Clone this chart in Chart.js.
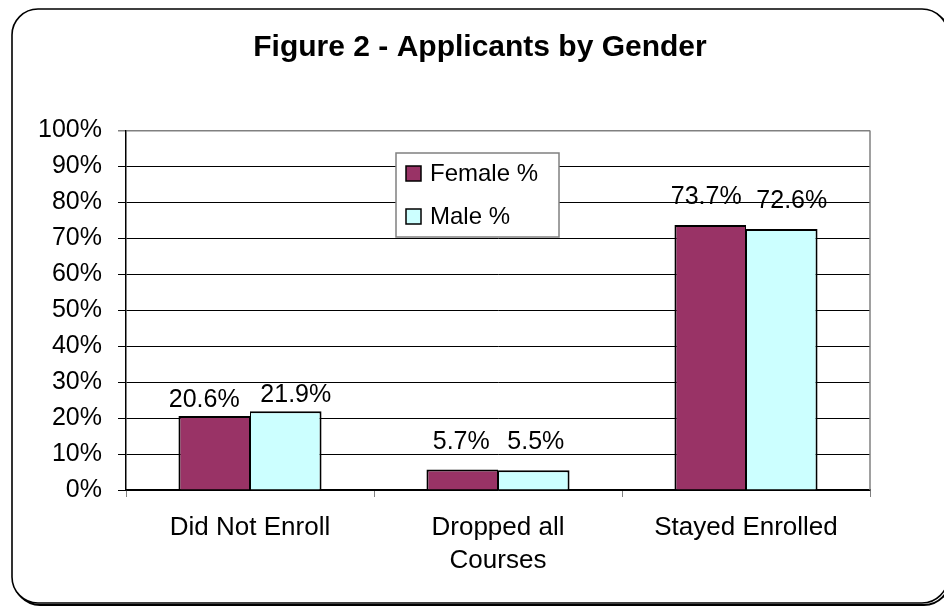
<!DOCTYPE html>
<html>
<head>
<meta charset="utf-8">
<script src="https://cdn.jsdelivr.net/npm/chart.js@4.4.0/dist/chart.umd.min.js"></script>
<style>
  html, body { margin: 0; padding: 0; background: #fff; }
  #wrap { width: 944px; height: 608px; position: relative; }
</style>
</head>
<body>
<div id="wrap"><canvas id="c" width="944" height="608"></canvas></div>
<script>
const titleText = 'Figure 2 - Applicants by Gender';
const categories = ['Did Not Enroll', ['Dropped all', 'Courses'], 'Stayed Enrolled'];
const femaleValues = [20.6, 5.7, 73.7];
const maleValues = [21.9, 5.5, 72.6];
const seriesNames = ['Female %', 'Male %'];
const yTicks = [0, 10, 20, 30, 40, 50, 60, 70, 80, 90, 100];

const FONT = "'Liberation Sans', Arial, sans-serif";

const framePlugin = {
  id: 'frame',
  beforeDraw(chart) {
    const ctx = chart.ctx;
    ctx.save();
    ctx.fillStyle = '#fff';
    ctx.fillRect(0, 0, chart.width, chart.height);
    const x = 12, y = 9, w = 936, h = 594, r = 26;
    const path = () => {
      ctx.beginPath();
      ctx.moveTo(x + r, y);
      ctx.lineTo(x + w - r, y);
      ctx.arcTo(x + w, y, x + w, y + r, r);
      ctx.lineTo(x + w, y + h - r);
      ctx.arcTo(x + w, y + h, x + w - r, y + h, r);
      ctx.lineTo(x + r, y + h);
      ctx.arcTo(x, y + h, x, y + h - r, r);
      ctx.lineTo(x, y + r);
      ctx.arcTo(x, y, x + r, y, r);
      ctx.closePath();
    };
    ctx.save();
    ctx.translate(2, 2);
    path();
    ctx.lineWidth = 2;
    ctx.strokeStyle = '#000';
    ctx.stroke();
    ctx.restore();
    path();
    ctx.fillStyle = '#fff';
    ctx.fill();
    ctx.lineWidth = 1.6;
    ctx.strokeStyle = '#000';
    ctx.stroke();
    ctx.restore();
  },
  afterDraw(chart) {
    const a = chart.chartArea;
    const ctx = chart.ctx;
    ctx.save();
    ctx.strokeStyle = '#808080';
    ctx.lineWidth = 1.5;
    ctx.beginPath();
    ctx.moveTo(a.right, a.top);
    ctx.lineTo(a.right, a.bottom);
    ctx.stroke();
    ctx.restore();
  }
};

const valueLabelPlugin = {
  id: 'valueLabels',
  afterDatasetsDraw(chart, args, opts) {
    const ctx = chart.ctx;
    ctx.save();
    ctx.font = opts.font;
    ctx.fillStyle = '#000';
    ctx.textAlign = 'center';
    ctx.textBaseline = 'alphabetic';
    chart.data.datasets.forEach((ds, di) => {
      const meta = chart.getDatasetMeta(di);
      meta.data.forEach((bar, i) => {
        const gap = opts.gaps[i];
        const dx = opts.shifts[di][i];
        ctx.fillText(ds.data[i].toFixed(1) + '%', bar.x + dx, bar.y - gap);
      });
    });
    ctx.restore();
  }
};

const boxLegendPlugin = {
  id: 'boxLegend',
  afterDraw(chart, args, opts) {
    const ctx = chart.ctx;
    ctx.save();
    ctx.fillStyle = '#fff';
    ctx.fillRect(opts.x, opts.y, opts.w, opts.h);
    ctx.strokeStyle = '#808080';
    ctx.lineWidth = 1.5;
    ctx.strokeRect(opts.x, opts.y, opts.w, opts.h);
    ctx.font = opts.font;
    ctx.textBaseline = 'middle';
    ctx.textAlign = 'left';
    chart.data.datasets.forEach((ds, i) => {
      const cy = opts.y + opts.firstRow + i * opts.rowGap;
      ctx.fillStyle = ds.backgroundColor;
      ctx.fillRect(opts.x + 10, cy - 7, 15, 15);
      ctx.strokeStyle = '#000';
      ctx.lineWidth = 1.5;
      ctx.strokeRect(opts.x + 10, cy - 7, 15, 15);
      ctx.fillStyle = '#000';
      ctx.fillText(ds.label, opts.x + 34, cy + 1);
    });
    ctx.restore();
  }
};

new Chart(document.getElementById('c'), {
  type: 'bar',
  data: {
    labels: categories,
    datasets: [
      {
        label: seriesNames[0],
        data: femaleValues,
        backgroundColor: '#993366',
        borderColor: '#000',
        borderWidth: { left: 2, top: 2, right: 1, bottom: 0 },
        borderSkipped: false
      },
      {
        label: seriesNames[1],
        data: maleValues,
        backgroundColor: '#CCFFFF',
        borderColor: '#000',
        borderWidth: { left: 1, top: 2, right: 2, bottom: 0 },
        borderSkipped: false
      }
    ]
  },
  options: {
    responsive: false,
    animation: false,
    devicePixelRatio: 1,
    layout: { padding: { left: 16, right: 0, top: 0, bottom: 0 } },
    datasets: { bar: { categoryPercentage: 0.577, barPercentage: 1.0 } },
    scales: {
      x: {
        offset: true,
        grid: {
          offset: true,
          drawOnChartArea: false,
          drawTicks: true,
          tickLength: 7,
          color: '#808080',
          lineWidth: 1
        },
        border: { display: true, color: '#000', width: 1.5 },
        ticks: {
          color: '#000',
          font: { family: FONT, size: 26, lineHeight: 1.27 },
          padding: 14,
          maxRotation: 0,
          autoSkip: false
        },
        afterFit(scale) { scale.height = 118; }
      },
      y: {
        min: 0,
        max: 100,
        afterBuildTicks(scale) { scale.ticks = yTicks.map(v => ({ value: v })); },
        grid: {
          color: (c) => (c.tick && c.tick.value === 100 ? '#808080' : '#000'),
          lineWidth: (c) => (c.tick && c.tick.value === 100 ? 1.5 : 1),
          tickLength: 8,
          drawTicks: true
        },
        border: { display: true, color: '#000', width: 1.5 },
        ticks: {
          color: '#000',
          font: { family: FONT, size: 25 },
          padding: 16,
          callback: (v) => v + '%'
        },
        afterFit(scale) { scale.width = 110; }
      },
      spacer: {
        type: 'linear',
        position: 'right',
        display: true,
        grid: { display: false, drawOnChartArea: false },
        border: { display: false },
        ticks: { display: false },
        afterFit(scale) { scale.width = 74; }
      }
    },
    plugins: {
      legend: { display: false },
      tooltip: { enabled: false },
      title: {
        display: true,
        text: titleText,
        color: '#000',
        font: { family: FONT, size: 30, weight: 'bold', lineHeight: 1.2 },
        padding: { top: 30, bottom: 64.5 }
      },
      valueLabels: {
        font: "25px " + FONT,
        gaps: [9, 21, 21],
        shifts: [[-10, -1, -4], [10, 2, 10]]
      },
      boxLegend: { x: 396, y: 153, w: 163, h: 84, firstRow: 20, rowGap: 43, font: "24px " + FONT }
    }
  },
  plugins: [framePlugin, valueLabelPlugin, boxLegendPlugin]
});
</script>
</body>
</html>
